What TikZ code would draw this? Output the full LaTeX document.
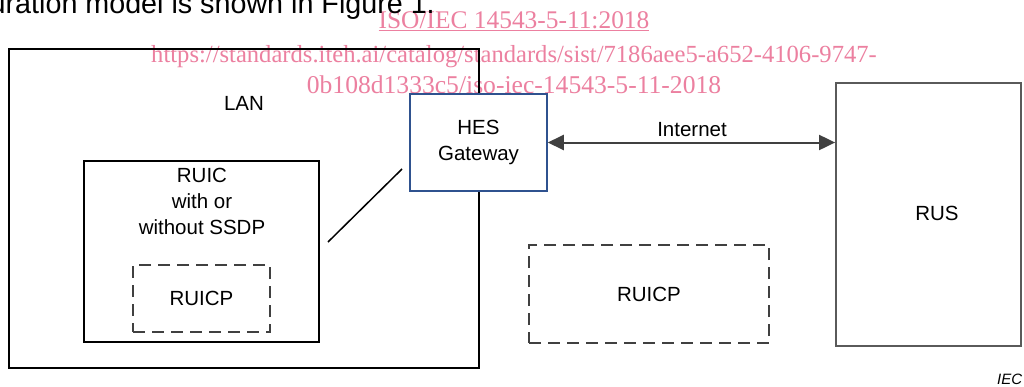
\documentclass[tikz,border=0pt]{standalone}
\usepackage{fontspec}
\setmainfont{Liberation Sans}
\newfontfamily\wmfont{Liberation Serif}
\usetikzlibrary{arrows.meta}
\definecolor{wmpink}{RGB}{236,128,160}
\definecolor{hesblue}{RGB}{47,82,143}
\definecolor{linkgray}{RGB}{64,64,64}
\definecolor{rusgray}{RGB}{90,90,90}
\begin{document}
\begin{tikzpicture}[x=1pt,y=-1pt,
  solidbox/.style={draw=black, line width=1.5pt, inner sep=0pt},
  dashbox/.style={draw=linkgray, line width=1.6pt, dash pattern=on 12pt off 7pt, inner sep=0pt},
  lbl/.style={inner sep=0pt, font=\fontsize{20.5}{26}\selectfont, align=center},
  wm/.style={inner sep=0pt, text=wmpink},
  link/.style={draw=linkgray, line width=2pt},
  tip/.tip={Triangle[length=16pt,width=15pt]},
]
\useasboundingbox[fill=white] (0,0) rectangle (1024,386);

% watermark
\node[wm, anchor=base, font=\wmfont\fontsize{25.4}{30}\selectfont] (wm1) at (514,28) {\underline{ISO/IEC 14543-5-11:2018}};
\node[wm, anchor=base, font=\wmfont\fontsize{24.6}{30}\selectfont] (wm2) at (514,62) {https://standards.iteh.ai/catalog/standards/sist/7186aee5-a652-4106-9747-};
\node[wm, anchor=base, font=\wmfont\fontsize{25.6}{30}\selectfont] (wm3) at (514,93) {0b108d1333c5/iso-iec-14543-5-11-2018};

% intro text (cut at top)
\node[inner sep=0pt, anchor=base east, font=\fontsize{28.7}{34}\selectfont] (intro) at (435,13.5) {uration model is shown in Figure 1.};

% LAN
\node[solidbox, minimum width=470pt, minimum height=319pt] (lan) at (244,208.5) {};
\node[lbl] (lantext) at (244,103) {LAN};

% RUIC
\node[solidbox, minimum width=235pt, minimum height=181pt] (ruic) at (201.5,251.5) {};
\node[lbl] (ruictext) at (202,201) {RUIC\\with or\\without SSDP};
\node[dashbox, minimum width=137pt, minimum height=67pt, lbl] (ruicp1) at (201.5,298.5) {RUICP};

% HES gateway
\node[draw=hesblue, fill=white, line width=1.5pt, minimum width=137pt, minimum height=97pt, lbl] (hes) at (478.5,142.5) {HES\\Gateway};

% RUS
\node[draw=rusgray, line width=1.8pt, minimum width=185pt, minimum height=263pt, inner sep=0pt] (rus) at (928.5,214.5) {};
\node[lbl] (rustext) at (937,213) {RUS};

% RUICP right
\node[dashbox, minimum width=240pt, minimum height=98pt, lbl] (ruicp2) at (649,294) {RUICP};

% internet link
\draw[link, tip-tip] (hes.east) -- (hes.east -| rus.west);
\node[lbl] (internet) at (692,130) {Internet};

% diagonal
\coordinate (d1) at (328,242);
\coordinate (d2) at (402,169);
\draw[line width=1.5pt] (d1) -- (d2);

% IEC
\node[inner sep=0pt, anchor=base west, font=\itshape\fontsize{15}{18}\selectfont] (iec) at (997,384) {IEC};
\end{tikzpicture}
\end{document}
